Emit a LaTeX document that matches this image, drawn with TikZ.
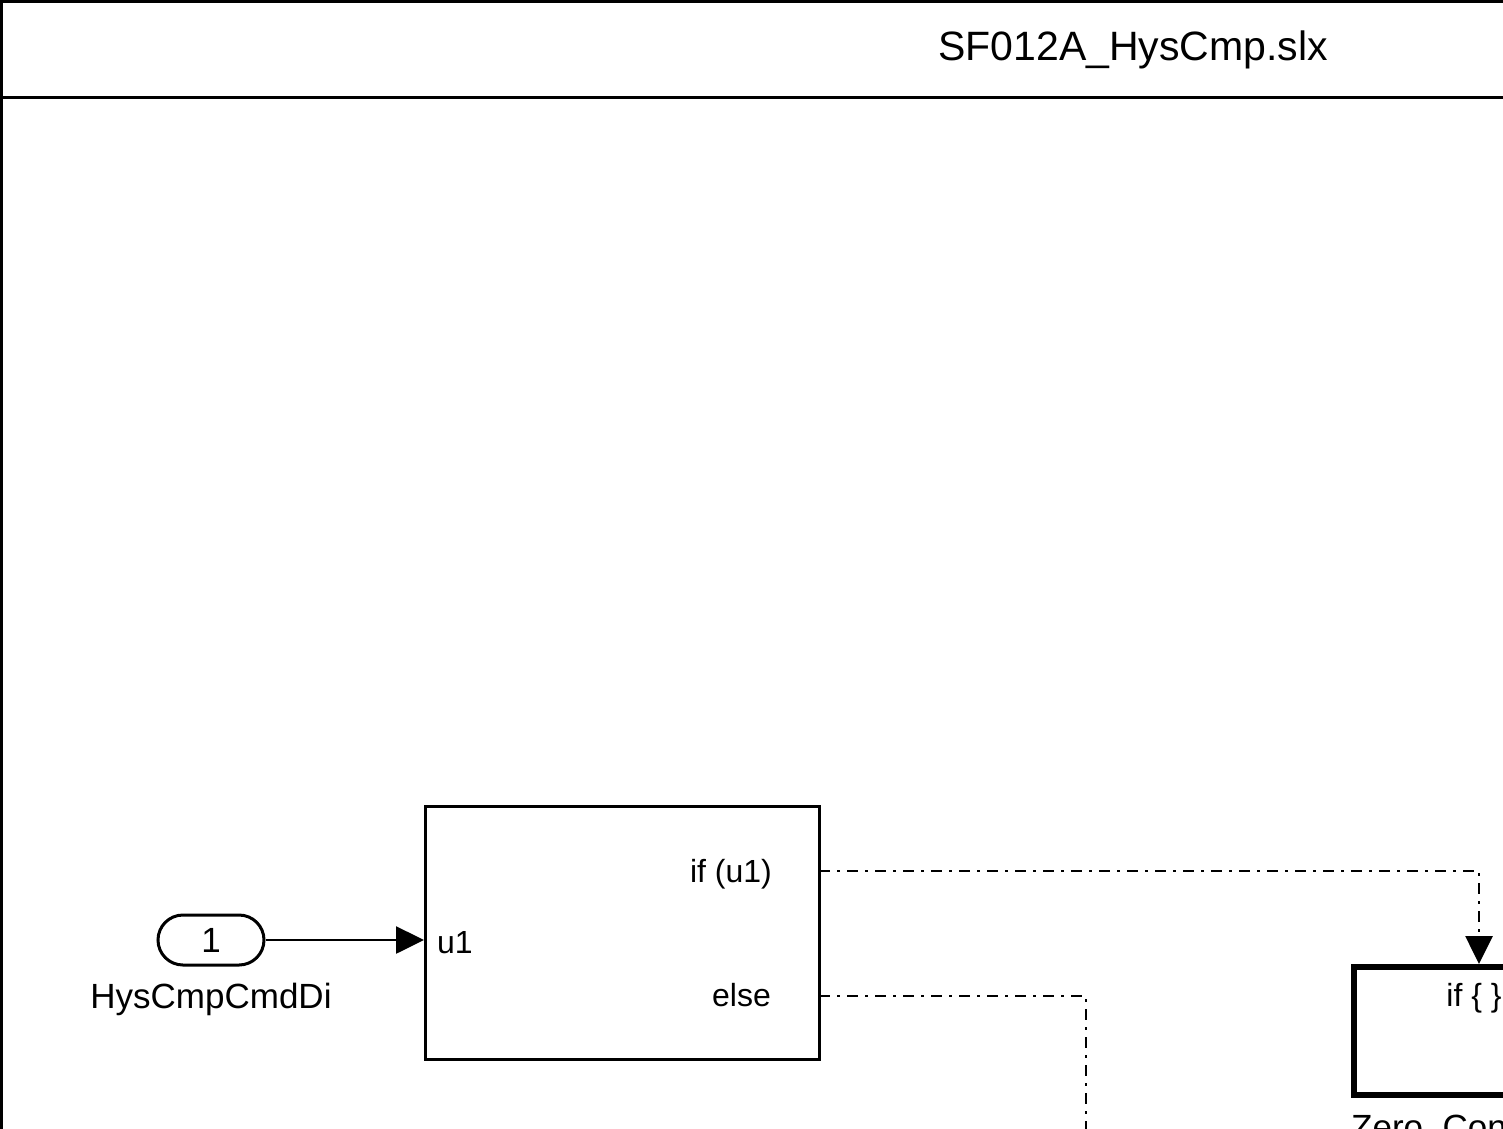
\documentclass[tikz,border=0pt]{standalone}
\usepackage{fontspec}
\setmainfont{Liberation Sans}
\usetikzlibrary{arrows.meta}
\begin{document}
\begin{tikzpicture}[x=1pt,y=-1pt,
  frame/.style={line width=3pt},
  blk/.style={draw, line width=3pt, inner sep=0pt},
  txt/.style={inner sep=0pt, font=\fontsize{32}{38}\selectfont},
  lbl/.style={inner sep=0pt, font=\fontsize{35}{42}\selectfont},
  ttl/.style={inner sep=0pt, font=\fontsize{41}{49}\selectfont},
  tip/.style={-{Triangle[length=28pt,width=27pt]}},
  sig/.style={line width=2.6pt, tip},
  ctl/.style={line width=2.7pt, dash pattern=on 11pt off 7pt on 3pt off 7pt},
]
\useasboundingbox (0,0) rectangle (1503,1128);
\clip (0,0) rectangle (1503,1128);
% frame
\draw[frame] (1.3,1200) -- (1.3,1.3) -- (1600,1.3);
\draw[frame] (0,97) -- (1600,97);
\node[ttl, anchor=base west] (title) at (938,60) {SF012A\_HysCmp.slx};
% inport
\node[blk, rounded corners=25pt, minimum width=106pt, minimum height=50pt, lbl] (in1) at (211,940) {1};
\node[lbl, anchor=base] (in1lbl) at (211,1008) {HysCmpCmdDi};
% if block
\node[blk, minimum width=393.5pt, minimum height=252.5pt] (ifb) at (622.25,932.75) {};
\node[txt, anchor=base west] (u1lbl) at (437,953) {u1};
\node[txt, anchor=base east] (iflbl) at (772,882) {if (u1)};
\node[txt, anchor=base east] (elselbl) at (771,1006) {else};
\coordinate (ifport) at (819,871);
\coordinate (elseport) at (819,996);
% action subsystem
\node[draw, line width=6pt, minimum width=250pt, minimum height=128pt] (zero) at (1479,1031) {};
\node[txt, anchor=base] (zerotxt) at (1474,1006) {if \{ \}};
\node[lbl, anchor=base west] (zeroname) at (1351,1139) {Zero\_Con};
\coordinate (elseend) at (1086,1200);
% connectors
\draw[sig] (in1.east) -- (in1.east -| ifb.west);
\draw[ctl, tip] (ifport) -| (zero.north);
\draw[ctl] (elseport) -| (elseend);
\end{tikzpicture}
\end{document}
